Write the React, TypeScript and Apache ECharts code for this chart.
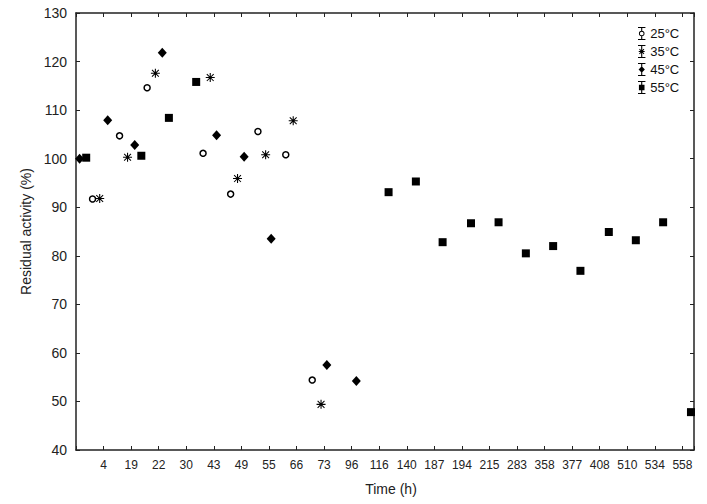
import React, { useEffect, useRef } from 'react';
import * as echarts from 'echarts';

// Tick labels of the time axis (h), placed at axis positions 1..22
const timeLabels = ['4', '19', '22', '30', '43', '49', '55', '66', '73', '96', '116', '140', '187', '194', '215', '283', '358', '377', '408', '510', '534', '558'];

// 25 °C (open circles): axis position and residual activity (%)
const pos25 = [0.6, 1.58, 2.58, 4.61, 5.61, 6.6, 7.61, 8.57];
const val25 = [91.7, 104.7, 114.6, 101.1, 92.7, 105.6, 100.8, 54.4];

// 35 °C (asterisks)
const pos35 = [0.86, 1.87, 2.88, 4.87, 5.86, 6.88, 7.88, 8.89];
const val35 = [91.8, 100.3, 117.6, 116.7, 95.9, 100.8, 107.8, 49.4];

// 45 °C (diamonds)
const pos45 = [0.13, 1.15, 2.13, 3.13, 5.1, 6.1, 7.08, 9.1, 10.17];
const val45 = [100.0, 107.9, 102.8, 121.8, 104.8, 100.4, 83.5, 57.5, 54.2];

// 55 °C (squares)
const pos55 = [0.37, 2.37, 3.37, 4.36, 11.34, 12.33, 13.3, 14.33, 15.33, 16.32, 17.31, 18.3, 19.33, 20.31, 21.3, 22.31];
const val55 = [100.2, 100.6, 108.4, 115.8, 93.1, 95.3, 82.8, 86.7, 86.9, 80.5, 82.0, 76.9, 84.9, 83.2, 86.9, 47.8];

const seriesNames = ['25°C', '35°C', '45°C', '55°C'];

const FONT = "'Liberation Sans', Arial, Helvetica, sans-serif";
const AX = '#222';

const starPath =
  'path://M4.4 0H5.6V10H4.4Z M0 4.4H10V5.6H0Z M0.8 1.6L1.6 0.8L9.2 8.4L8.4 9.2Z M8.4 0.8L9.2 1.6L1.6 9.2L0.8 8.4Z';

// Legend icons: marker with an error-bar (I-beam)
const caps = 'M1 0H9V1.2H1Z M1 12.8H9V14H1Z';
const stem = 'M4.4 1.2H5.6V12.8H4.4Z';
const icon25 =
  'path://' + caps + ' M4.4 1.2H5.6V4H4.4Z M4.4 10H5.6V12.8H4.4Z M2 7A3 3 0 1 1 8 7A3 3 0 1 1 2 7Z M3 7A2 2 0 1 0 7 7A2 2 0 1 0 3 7Z';
const icon35 =
  'path://' + caps + ' ' + stem + ' M1.8 6.4H8.2V7.6H1.8Z M2.2 4.8L2.9 4.1L7.8 9.2L7.1 9.9Z M7.1 4.1L7.8 4.8L2.9 9.9L2.2 9.2Z';
const icon45 = 'path://' + caps + ' ' + stem + ' M5 3.4L8.4 7L5 10.6L1.6 7Z';
const icon55 = 'path://' + caps + ' ' + stem + ' M2 4H8V10H2Z';

const pairs = (xs: number[], ys: number[]) => xs.map((x, i) => [x, ys[i]]);

const xLabel = (v: number) => {
  const i = Math.round(v);
  return Math.abs(v - i) < 1e-6 && i >= 1 && i <= timeLabels.length ? timeLabels[i - 1] : '';
};

const X_MAX = 22.42;

export default function App() {
  const ref = useRef<HTMLDivElement>(null);
  useEffect(() => {
    document.body.style.margin = '0';
    const chart = echarts.init(ref.current as HTMLDivElement, null, { renderer: 'svg' });
    const axisLine = { show: true, onZero: false, lineStyle: { color: AX, width: 1.5 } };
    const axisTick = { show: true, inside: true, length: 4, lineStyle: { color: AX, width: 1 } };
    chart.setOption({
      animation: false,
      backgroundColor: '#fff',
      grid: { left: 76, right: 13, top: 13, bottom: 54 },
      legend: {
        orient: 'vertical',
        left: 638,
        top: 27,
        padding: 0,
        itemWidth: 9,
        itemHeight: 13,
        itemGap: 5,
        textStyle: { fontSize: 13, color: '#111', fontFamily: FONT, padding: [0, 0, 0, -1] },
        data: [
          { name: seriesNames[0], icon: icon25, itemStyle: { color: '#000', borderWidth: 0 } },
          { name: seriesNames[1], icon: icon35, itemStyle: { color: '#000', borderWidth: 0 } },
          { name: seriesNames[2], icon: icon45, itemStyle: { color: '#000', borderWidth: 0 } },
          { name: seriesNames[3], icon: icon55, itemStyle: { color: '#000', borderWidth: 0 } },
        ],
      },
      xAxis: [
        {
          type: 'value',
          position: 'bottom',
          min: 0,
          max: X_MAX,
          interval: 1,
          axisLine,
          axisTick,
          splitLine: { show: false },
          axisLabel: { formatter: xLabel, fontSize: 12, color: AX, fontFamily: FONT, margin: 9 },
          name: 'Time (h)',
          nameLocation: 'middle',
          nameGap: 32,
          nameTextStyle: { fontSize: 14, color: AX, fontFamily: FONT, padding: [0, 0, 0, 12] },
        },
        {
          type: 'value',
          position: 'top',
          min: 0,
          max: X_MAX,
          interval: 1,
          axisLine,
          axisTick,
          splitLine: { show: false },
          axisLabel: { show: false },
        },
      ],
      yAxis: [
        {
          type: 'value',
          position: 'left',
          min: 40,
          max: 130,
          interval: 10,
          axisLine,
          axisTick,
          splitLine: { show: false },
          axisLabel: { fontSize: 14, color: AX, fontFamily: FONT, margin: 9 },
          name: 'Residual activity (%)',
          nameLocation: 'middle',
          nameGap: 42,
          nameTextStyle: { fontSize: 14, color: AX, fontFamily: FONT },
        },
        {
          type: 'value',
          position: 'right',
          min: 40,
          max: 130,
          interval: 10,
          axisLine,
          axisTick,
          splitLine: { show: false },
          axisLabel: { show: false },
        },
      ],
      series: [
        {
          name: seriesNames[0],
          type: 'scatter',
          symbol: 'circle',
          symbolSize: 6,
          itemStyle: { color: '#fff', borderColor: '#000', borderWidth: 1.5, opacity: 1 },
          data: pairs(pos25, val25),
        },
        {
          name: seriesNames[1],
          type: 'scatter',
          symbol: starPath,
          symbolSize: 9,
          itemStyle: { color: '#000', opacity: 1 },
          data: pairs(pos35, val35),
        },
        {
          name: seriesNames[2],
          type: 'scatter',
          symbol: 'diamond',
          symbolSize: [9, 10],
          itemStyle: { color: '#000', opacity: 1 },
          data: pairs(pos45, val45),
        },
        {
          name: seriesNames[3],
          type: 'scatter',
          symbol: 'rect',
          symbolSize: 8,
          clip: false,
          itemStyle: { color: '#000', opacity: 1 },
          data: pairs(pos55, val55),
        },
      ],
    });
    return () => chart.dispose();
  }, []);
  return <div ref={ref} style={{ width: 707, height: 504 }} />;
}
